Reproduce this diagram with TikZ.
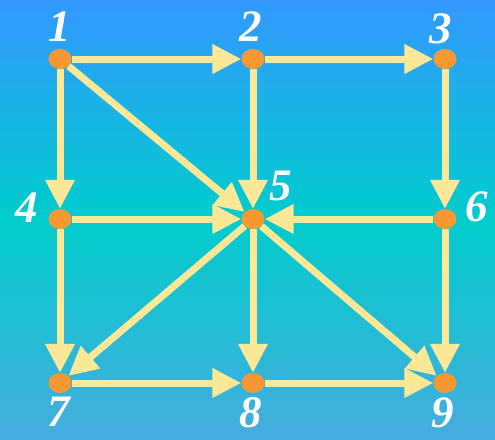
\documentclass[tikz,border=0pt]{standalone}
\usepackage{fontspec}
\setmainfont{Liberation Serif}
\usetikzlibrary{arrows.meta,shapes.geometric}
\definecolor{bgtop}{RGB}{51,153,255}
\definecolor{bgmid}{RGB}{0,204,204}
\definecolor{bgbot}{RGB}{70,172,222}
\definecolor{dotc}{RGB}{247,152,50}
\definecolor{edgec}{RGB}{252,232,150}
\tikzset{
  vdot/.style={ellipse,fill=dotc,draw=none,minimum width=23pt,minimum height=20pt,inner sep=0pt},
  lbl/.style={text=white,font=\fontsize{45}{45}\selectfont\bfseries\itshape,inner sep=0pt,anchor=center},
  conn/.style={draw=edgec,line width=7pt,-{Triangle[length=29pt,width=28pt]}}
}
\begin{document}
\begin{tikzpicture}[x=1pt,y=-1pt]
\shade[top color=bgtop,bottom color=bgmid] (0,0) rectangle (495,220);
\shade[top color=bgmid,bottom color=bgbot] (0,219.5) rectangle (495,439);
\useasboundingbox (0,0) rectangle (495,439);
\node[vdot] (n1) at (60,59) {};
\node[vdot] (n2) at (253,59) {};
\node[vdot] (n3) at (445,59) {};
\node[vdot] (n4) at (60,219) {};
\node[vdot] (n5) at (253,219) {};
\node[vdot] (n6) at (445,219) {};
\node[vdot] (n7) at (60,383) {};
\node[vdot] (n8) at (253,383) {};
\node[vdot] (n9) at (445,383) {};
\draw[conn] (n1) -- (n2);
\draw[conn] (n2) -- (n3);
\draw[conn] (n1) -- (n4);
\draw[conn] (n1) -- (n5);
\draw[conn] (n2) -- (n5);
\draw[conn] (n3) -- (n6);
\draw[conn] (n4) -- (n5);
\draw[conn] (n6) -- (n5);
\draw[conn] (n4) -- (n7);
\draw[conn] (n5) -- (n7);
\draw[conn] (n5) -- (n8);
\draw[conn] (n5) -- (n9);
\draw[conn] (n6) -- (n9);
\draw[conn] (n7) -- (n8);
\draw[conn] (n8) -- (n9);
\node[lbl] (l1) at (60,27) {1};
\node[lbl] (l2) at (251,27) {2};
\node[lbl] (l3) at (441,29) {3};
\node[lbl] (l4) at (27,208) {4};
\node[lbl] (l5) at (281,186) {5};
\node[lbl] (l6) at (477,207) {6};
\node[lbl] (l7) at (59,412) {7};
\node[lbl] (l8) at (251,413) {8};
\node[lbl] (l9) at (443,413) {9};
\end{tikzpicture}
\end{document}
